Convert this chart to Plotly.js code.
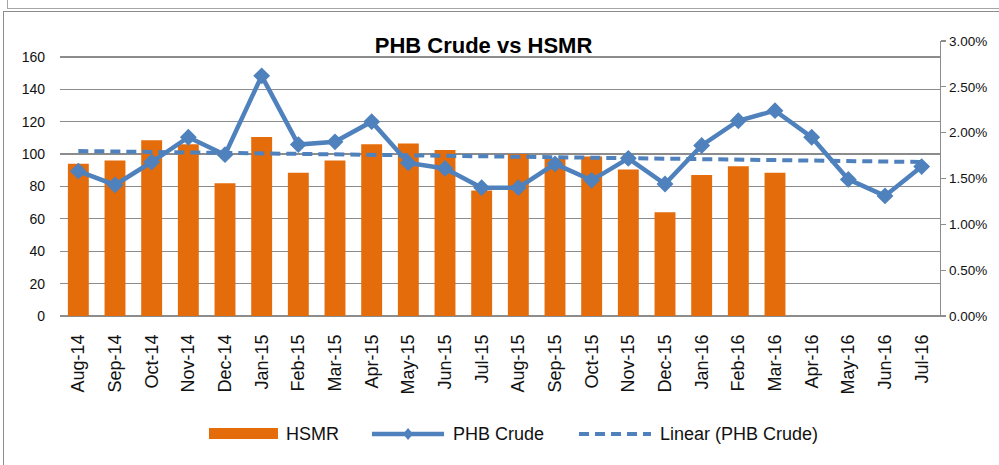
<!DOCTYPE html>
<html>
<head>
<meta charset="utf-8">
<script src="https://cdn.plot.ly/plotly-3.0.1.min.js"></script>
<style>
  html, body { margin: 0; padding: 0; background: #fff; overflow: hidden; }
  #wrap { position: relative; width: 999px; height: 465px; }
  #chart { position: absolute; left: 0; top: 0; width: 999px; height: 465px; }
  .frame { position: absolute; pointer-events: none; box-sizing: border-box; }
  #upper { left: 7px; top: -20px; width: 1100px; height: 29px; border: 1px solid #a6a6a6; }
  #outer { left: 3px; top: 11px; width: 1100px; height: 600px; border: 1.5px solid #8c8c8c; }
</style>
</head>
<body>
<div id="wrap">
  <div id="chart"></div>
  <div class="frame" id="upper"></div>
  <div class="frame" id="outer"></div>
</div>
<script>
// ---- data ----
const months = ["Aug-14","Sep-14","Oct-14","Nov-14","Dec-14","Jan-15","Feb-15","Mar-15",
                "Apr-15","May-15","Jun-15","Jul-15","Aug-15","Sep-15","Oct-15","Nov-15",
                "Dec-15","Jan-16","Feb-16","Mar-16","Apr-16","May-16","Jun-16","Jul-16"];
const hsmrMonths = months.slice(0, 20);
const hsmrValues = [94, 96, 108.5, 106, 82, 110.5, 88.5, 96, 106, 106.5, 102.5, 77.5,
                    100, 97, 98.5, 90.5, 64, 87, 92.5, 88.5];
const phbCrude = [0.0158, 0.0143, 0.0168, 0.0195, 0.0176, 0.0262, 0.0187, 0.0190,
                  0.0212, 0.0167, 0.0161, 0.0140, 0.0140, 0.0166, 0.0148, 0.0172,
                  0.0144, 0.0186, 0.0213, 0.0224, 0.0195, 0.0149, 0.0131, 0.0163];
const trendMonths = ["Aug-14", "Jul-16"];
const trendValues = [0.0180, 0.0168];
const leftTicks = [0, 20, 40, 60, 80, 100, 120, 140, 160];

const orange = "#E46C0A";
const blue = "#4F81BD";
const grid = "#8c8c8c";
const font = "Liberation Sans, Arial, sans-serif";

const traces = [
  { type: "bar", name: "HSMR", x: hsmrMonths, y: hsmrValues, yaxis: "y",
    marker: { color: orange }, showlegend: false, hoverinfo: "skip" },
  { type: "scatter", mode: "lines", name: "Linear (PHB Crude)", x: trendMonths, y: trendValues,
    yaxis: "y2", line: { color: blue, width: 4, dash: "10px,6px" }, showlegend: false },
  { type: "scatter", mode: "lines+markers", name: "PHB Crude", x: months, y: phbCrude,
    yaxis: "y2", line: { color: blue, width: 4.5 },
    marker: { symbol: "diamond", size: 13, color: blue }, showlegend: false }
];

// legend drawn in paper coordinates below the plot
const shapes = [
  { type: "rect", xref: "paper", yref: "paper", x0: 0.1693, x1: 0.2477, y0: -0.4473, y1: -0.4073,
    fillcolor: orange, line: { width: 0 } },
  { type: "line", xref: "paper", yref: "paper", x0: 0.3545, x1: 0.4364, y0: -0.429, y1: -0.429,
    line: { color: blue, width: 4.5 } },
  { type: "path", xref: "paper", yref: "paper",
    path: "M 0.3898 -0.429 L 0.3955 -0.4072 L 0.4012 -0.429 L 0.3955 -0.4508 Z",
    fillcolor: blue, line: { width: 0 } },
  { type: "line", xref: "paper", yref: "paper", x0: 0.5898, x1: 0.6716, y0: -0.429, y1: -0.429,
    line: { color: blue, width: 4, dash: "10px,6px" } }
];
const annotations = [
  { text: "HSMR", xref: "paper", yref: "paper", x: 0.2545, y: -0.429, xanchor: "left", yanchor: "middle",
    showarrow: false, font: { family: font, size: 18, color: "#111" } },
  { text: "PHB Crude", xref: "paper", yref: "paper", x: 0.4443, y: -0.429, xanchor: "left", yanchor: "middle",
    showarrow: false, font: { family: font, size: 18, color: "#111" } },
  { text: "Linear (PHB Crude)", xref: "paper", yref: "paper", x: 0.6795, y: -0.429, xanchor: "left", yanchor: "middle",
    showarrow: false, font: { family: font, size: 18, color: "#111" } }
];

const layout = {
  width: 999, height: 465,
  margin: { l: 60, r: 59, t: 41, b: 149, pad: 0 },
  paper_bgcolor: "#fff", plot_bgcolor: "#fff",
  font: { family: font, color: "#111" },
  title: { text: "<b>PHB Crude vs HSMR</b>", font: { family: font, size: 22, color: "#000" },
           x: 0.484, xref: "container", xanchor: "center", y: 0.903, yref: "container", yanchor: "middle" },
  bargap: 0.43,
  showlegend: false,
  xaxis: { type: "category", categoryarray: months, categoryorder: "array", range: [-0.5, 23.5],
           tickangle: -90, tickfont: { family: font, size: 18, color: "#111" },
           showgrid: false, showline: true, linecolor: grid, linewidth: 1.3,
           ticks: "", ticklabelstandoff: 10, fixedrange: true },
  yaxis: { range: [0, 169.8], tickvals: leftTicks, ticktext: leftTicks.map(String),
           tickfont: { family: font, size: 14, color: "#111" },
           showgrid: true, gridcolor: grid, gridwidth: 1.3,
           zeroline: true, zerolinecolor: grid, zerolinewidth: 1.3,
           showline: false, ticks: "", ticklabelstandoff: 14, fixedrange: true },
  yaxis2: { overlaying: "y", side: "right", range: [0, 0.03], dtick: 0.005, tickformat: ".2%",
            tickfont: { family: font, size: 13.5, color: "#111" },
            showgrid: false, zeroline: false, showline: true, linecolor: grid, linewidth: 1.3,
            ticks: "outside", ticklen: 5, tickcolor: grid, tickwidth: 1.3, fixedrange: true },
  shapes: shapes,
  annotations: annotations
};

Plotly.newPlot("chart", traces, layout, { displayModeBar: false, staticPlot: true });
</script>
</body>
</html>
